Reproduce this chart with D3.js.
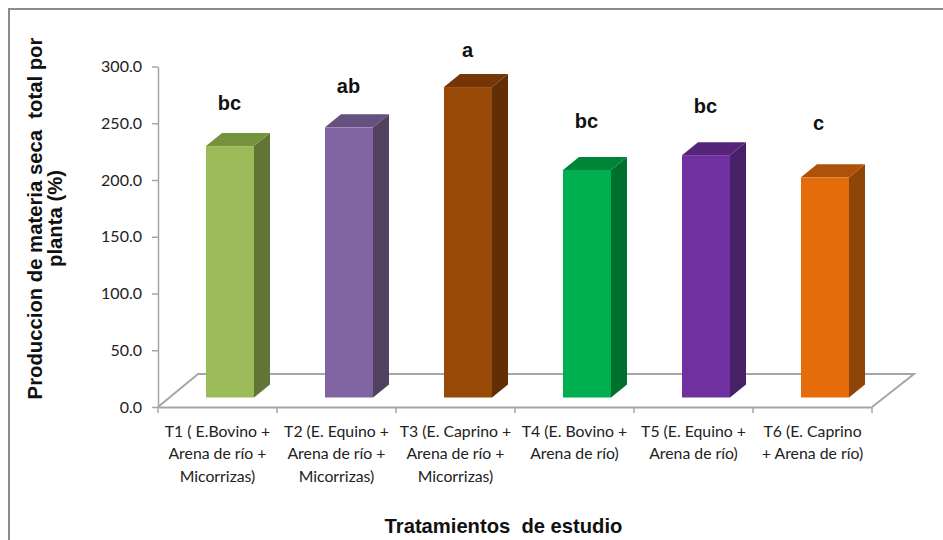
<!DOCTYPE html>
<html><head><meta charset="utf-8">
<script src="https://cdn.jsdelivr.net/npm/d3@7"></script>
<style>html,body{margin:0;padding:0;background:#fff}svg{display:block}</style>
</head><body><svg id="c" width="943" height="540"></svg>
<script>
const categories=["T1","T2","T3","T4","T5","T6"];
const values=[221.5,238,273.5,200.5,213.5,194];
const letters=["bc","ab","a","bc","bc","c"];
const letterLevels=[261.7,276.7,308.4,245.8,259,244];
const labelLines=[
 ["T1 ( E.Bovino +","Arena de río +","Micorrizas)"],
 ["T2 (E. Equino +","Arena de río +","Micorrizas)"],
 ["T3 (E. Caprino +","Arena de río +","Micorrizas)"],
 ["T4 (E. Bovino +","Arena de río)"],
 ["T5 (E. Equino +","Arena de río)"],
 ["T6 (E. Caprino","+ Arena de río)"]];
const frontColors=["#9bbb59","#8064a2","#984807","#00b050","#7030a0","#e46c0a"];
const topColors=["#76923c","#65507f","#743606","#008538","#55247a","#ad5208"];
const sideColors=["#637536","#51405f","#622e04","#00702f","#472065","#8f4506"];
const yTicks=[0,50,100,150,200,250,300];

const svg=d3.select("#c");
const grey="#a6a6a6";
const x=d3.scaleBand().domain(categories).range([158,872]);
const y=d3.scaleLinear().domain([0,300]).range([407,66.5]);
const depth={x:40,y:-33}, off={x:12.5,y:-9.5}, sideD={x:16,y:-13};
const barW=48;

svg.append("path").attr("d","M9,540V9H943").attr("fill","none").attr("stroke","#8c8c8c").attr("stroke-width",2);

// floor
const x0=x.range()[0],x1=x.range()[1],y0=y(0);
svg.append("path").attr("d",`M${x0},${y0}L${x0+depth.x},${y0+depth.y}H${x1+depth.x+2}L${x1},${y0}`)
 .attr("fill","none").attr("stroke",grey).attr("stroke-width",2);

// axes
const ya=d3.axisLeft(y).tickValues(yTicks).tickFormat(d3.format(".1f")).tickSize(6).tickSizeOuter(0);
const gy=svg.append("g").attr("transform",`translate(${x0},0)`).call(ya);
gy.selectAll("path,line").attr("stroke",grey).attr("stroke-width",1.5);
gy.selectAll("text").attr("font-family","Lato").attr("font-size",16).attr("fill","#222").attr("x",-16).attr("dy","0.32em");
const xa=d3.axisBottom(x).tickSize(0).tickFormat("");
const gx=svg.append("g").attr("transform",`translate(0,${y0})`).call(xa);
gx.select("path").attr("stroke",grey).attr("stroke-width",2);
const edges=x.domain().map(d=>x(d)).concat([x1]);
gx.selectAll("line.t").data(edges).join("line").attr("class","t").attr("x1",d=>d).attr("x2",d=>d).attr("y1",0).attr("y2",6).attr("stroke",grey).attr("stroke-width",1.5);

// bars
const bars=svg.append("g").selectAll("g").data(categories).join("g");
const fx=d=>x(d)+(x.bandwidth()-barW)/2+off.x;
const by=y0+off.y;
const vy=i=>y(values[i])+off.y;
bars.append("path").attr("fill",(d,i)=>sideColors[i])
 .attr("d",(d,i)=>`M${fx(d)+barW},${by}V${vy(i)}l${sideD.x},${sideD.y}V${by+sideD.y}Z`);
bars.append("path").attr("fill",(d,i)=>topColors[i])
 .attr("d",(d,i)=>`M${fx(d)},${vy(i)}h${barW}l${sideD.x},${sideD.y}h${-barW}Z`);
bars.append("rect").attr("fill",(d,i)=>frontColors[i]).attr("x",fx).attr("width",barW)
 .attr("y",(d,i)=>vy(i)).attr("height",(d,i)=>by-vy(i));
bars.append("text").text((d,i)=>letters[i]).attr("x",(d,i)=>fx(d)+barW/2-(i===5?6.5:0.5)).attr("y",(d,i)=>y(letterLevels[i]))
 .attr("text-anchor","middle").attr("font-family","Liberation Sans").attr("font-weight","bold").attr("font-size",20).attr("fill","#111");

// category labels
const lab=svg.append("g").selectAll("text").data(categories).join("text")
 .attr("text-anchor","middle").attr("font-family","Lato").attr("font-size",15.8).attr("fill","#222");
lab.each(function(d,i){
 d3.select(this).selectAll("tspan").data(labelLines[i]).join("tspan")
  .attr("x",x(d)+x.bandwidth()/2).attr("y",(l,j)=>436.5+j*22.5).text(l=>l);
});

// titles
svg.append("text").text("Tratamientos  de estudio").attr("x",503.5).attr("y",533).attr("text-anchor","middle")
 .attr("font-family","Liberation Sans").attr("font-weight","bold").attr("font-size",20.2).attr("fill","#111").style("white-space","pre");
[["Produccion de materia seca  total por",41.5],["planta (%)",62]].forEach(([t,xx])=>{
 svg.append("text").text(t).attr("transform",`translate(${xx},218.5) rotate(-90)`).attr("text-anchor","middle")
 .attr("font-family","Liberation Sans").attr("font-weight","bold").attr("font-size",20.3).attr("fill","#111").style("white-space","pre");
});
</script></body></html>
